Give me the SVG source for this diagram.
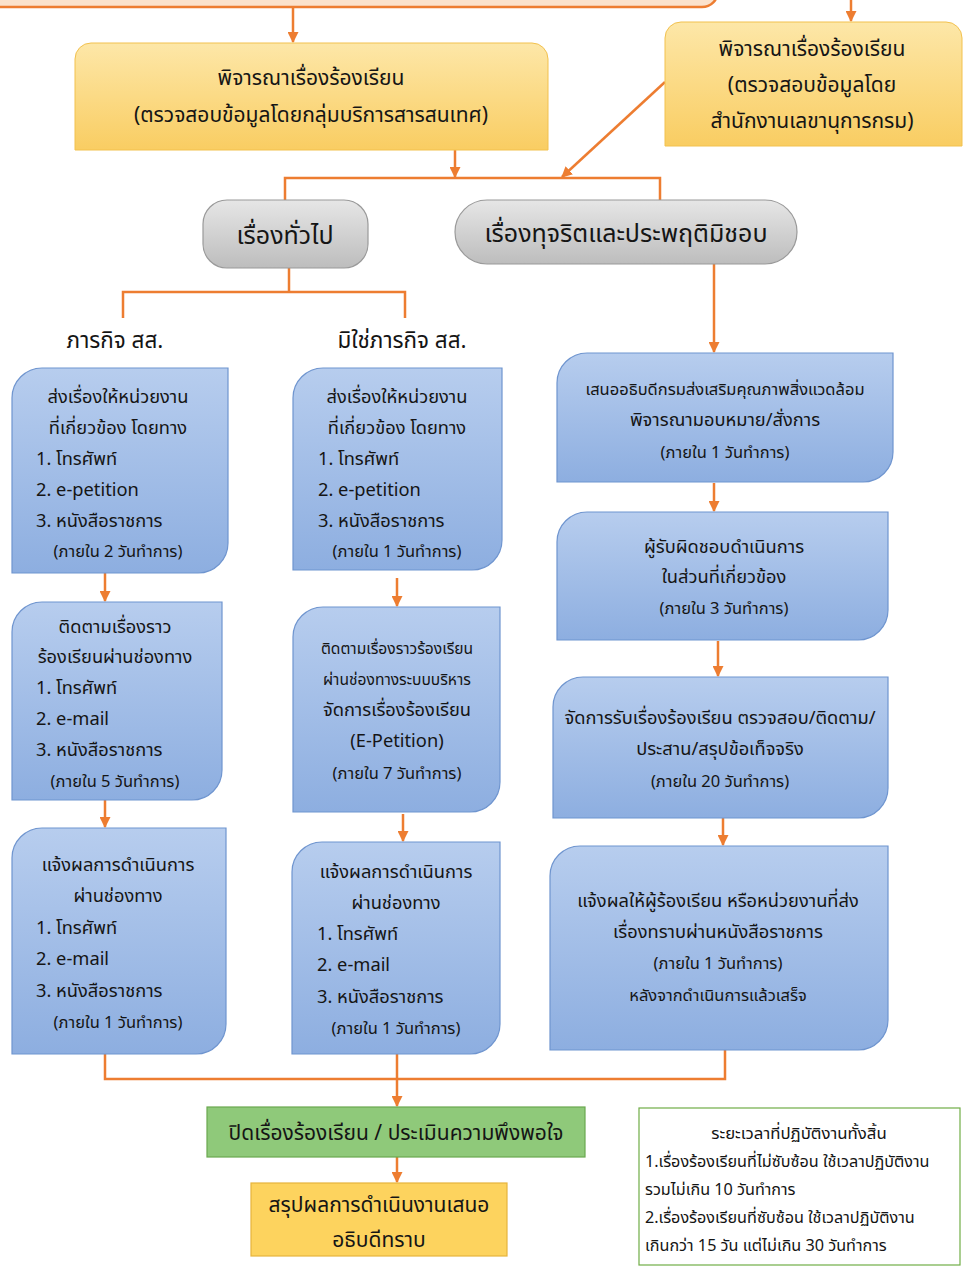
<svg xmlns="http://www.w3.org/2000/svg" width="963" height="1270" viewBox="0 0 963 1270">
<defs>
<linearGradient id="gY" x1="0" y1="0" x2="0" y2="1"><stop offset="0" stop-color="#fde7a8"/><stop offset="1" stop-color="#f9cd62"/></linearGradient>
<linearGradient id="gB" x1="0" y1="0" x2="0" y2="1"><stop offset="0" stop-color="#b7cdee"/><stop offset="1" stop-color="#8daee0"/></linearGradient>
<linearGradient id="gG" x1="0" y1="0" x2="0" y2="1"><stop offset="0" stop-color="#e6e6e6"/><stop offset="1" stop-color="#bdbdbd"/></linearGradient>
<marker id="ar" viewBox="0 0 10 10" refX="9" refY="5" markerWidth="11" markerHeight="11" markerUnits="userSpaceOnUse" orient="auto"><path d="M0,0 L10,5 L0,10 Z" fill="#ed7d31"/></marker>
<style>
.c{fill:none;stroke:#ed7d31;stroke-width:2.5}
.y{fill:url(#gY);stroke:#f2c14e;stroke-width:1}
.b{fill:url(#gB);stroke:#6f95cf;stroke-width:1.2}
.g{fill:url(#gG);stroke:#9a9a9a;stroke-width:1.2}
text{font-family:"Noto Sans Thai","Leelawadee UI",Tahoma,"Noto Sans","DejaVu Sans",sans-serif;fill:#151515}
.t20{font-size:21px;text-anchor:middle}
.t24{font-size:25px;text-anchor:middle}
.lab{font-size:22.5px;text-anchor:middle}
.t18{font-size:18.3px;text-anchor:middle}
.l18{font-size:18.3px}
.s15{font-size:16.5px;text-anchor:middle}
.n14{font-size:16.2px}
.nt{font-size:16.8px;text-anchor:middle}
.sm{font-size:15.6px;text-anchor:middle}
.r1{font-size:16.5px;text-anchor:middle}
</style>
</defs>
<rect width="963" height="1270" fill="#ffffff"/>

<g id="top-box"><path d="M-5,-30 H718 V-9 A16,16 0 0 1 702,7 H-5 Z" fill="#fbe2cc" stroke="#ed7d31" stroke-width="2.5"/></g>

<g id="connectors">
<line class="c" x1="293" y1="8" x2="293" y2="42" marker-end="url(#ar)"/>
<line class="c" x1="851" y1="0" x2="851" y2="21" marker-end="url(#ar)"/>
<line class="c" x1="455" y1="150" x2="455" y2="177" marker-end="url(#ar)"/>
<line class="c" x1="665" y1="82" x2="562" y2="177" marker-end="url(#ar)"/>
<polyline class="c" points="285,200 285,178 660,178 660,200"/>
<polyline class="c" points="289,268 289,292"/>
<polyline class="c" points="123,318 123,292 405,292 405,318"/>
<line class="c" x1="714" y1="264" x2="714" y2="352" marker-end="url(#ar)"/>
<line class="c" x1="105" y1="573" x2="105" y2="601" marker-end="url(#ar)"/>
<line class="c" x1="105" y1="800" x2="105" y2="827" marker-end="url(#ar)"/>
<line class="c" x1="397" y1="578" x2="397" y2="606" marker-end="url(#ar)"/>
<line class="c" x1="403" y1="814" x2="403" y2="841" marker-end="url(#ar)"/>
<line class="c" x1="714" y1="483" x2="714" y2="511" marker-end="url(#ar)"/>
<line class="c" x1="718" y1="641" x2="718" y2="676" marker-end="url(#ar)"/>
<line class="c" x1="723" y1="818" x2="723" y2="845" marker-end="url(#ar)"/>
<polyline class="c" points="105,1054 105,1079 725,1079 725,1050"/>
<line class="c" x1="397" y1="1054" x2="397" y2="1106" marker-end="url(#ar)"/>
<line class="c" x1="397" y1="1157" x2="397" y2="1182" marker-end="url(#ar)"/>
</g>

<g id="consider-left">
<path class="y" d="M75,150 V59 A16,16 0 0 1 91,43 H532 A16,16 0 0 1 548,59 V150 Z"/>
<text class="t20" x="311" y="85">พิจารณาเรื่องร้องเรียน</text>
<text class="t20" x="311" y="122">(ตรวจสอบข้อมูลโดยกลุ่มบริการสารสนเทศ)</text>
</g>

<g id="consider-right">
<path class="y" d="M665,146 V38 A16,16 0 0 1 681,22 H946 A16,16 0 0 1 962,38 V146 Z"/>
<text class="t20" x="812" y="56">พิจารณาเรื่องร้องเรียน</text>
<text class="t20" x="812" y="92">(ตรวจสอบข้อมูลโดย</text>
<text class="t20" x="812" y="128">สำนักงานเลขานุการกรม)</text>
</g>

<g id="general">
<rect class="g" x="203" y="200" width="165" height="68" rx="24"/>
<text class="t24" x="285" y="244">เรื่องทั่วไป</text>
</g>

<g id="corruption">
<rect class="g" x="455" y="200" width="342" height="64" rx="32"/>
<text class="t24" x="626" y="242">เรื่องทุจริตและประพฤติมิชอบ</text>
</g>

<g id="label-mission"><text class="lab" x="115" y="348">ภารกิจ สส.</text></g>
<g id="label-nonmission"><text class="lab" x="402" y="348">มิใช่ภารกิจ สส.</text></g>

<g id="L1">
<path class="b" d="M12,398 A30,30 0 0 1 42,368 H228 V543 A30,30 0 0 1 198,573 H12 Z"/>
<text class="t18" x="118" y="403">ส่งเรื่องให้หน่วยงาน</text>
<text class="t18" x="118" y="434">ที่เกี่ยวข้อง โดยทาง</text>
<text class="l18" x="36" y="465">1. โทรศัพท์</text>
<text class="l18" x="36" y="496">2. e-petition</text>
<text class="l18" x="36" y="527">3. หนังสือราชการ</text>
<text class="s15" x="118" y="557">(ภายใน 2 วันทำการ)</text>
</g>

<g id="L2">
<path class="b" d="M12,632 A30,30 0 0 1 42,602 H222 V770 A30,30 0 0 1 192,800 H12 Z"/>
<text class="t18" x="115" y="633">ติดตามเรื่องราว</text>
<text class="t18" x="115" y="663">ร้องเรียนผ่านช่องทาง</text>
<text class="l18" x="36" y="694">1. โทรศัพท์</text>
<text class="l18" x="36" y="725">2. e-mail</text>
<text class="l18" x="36" y="756">3. หนังสือราชการ</text>
<text class="s15" x="115" y="787">(ภายใน 5 วันทำการ)</text>
</g>

<g id="L3">
<path class="b" d="M12,858 A30,30 0 0 1 42,828 H226 V1024 A30,30 0 0 1 196,1054 H12 Z"/>
<text class="t18" x="118" y="871">แจ้งผลการดำเนินการ</text>
<text class="t18" x="118" y="902">ผ่านช่องทาง</text>
<text class="l18" x="36" y="934">1. โทรศัพท์</text>
<text class="l18" x="36" y="965">2. e-mail</text>
<text class="l18" x="36" y="997">3. หนังสือราชการ</text>
<text class="s15" x="118" y="1028">(ภายใน 1 วันทำการ)</text>
</g>

<g id="M1">
<path class="b" d="M293,398 A30,30 0 0 1 323,368 H502 V540 A30,30 0 0 1 472,570 H293 Z"/>
<text class="t18" x="397" y="403">ส่งเรื่องให้หน่วยงาน</text>
<text class="t18" x="397" y="434">ที่เกี่ยวข้อง โดยทาง</text>
<text class="l18" x="318" y="465">1. โทรศัพท์</text>
<text class="l18" x="318" y="496">2. e-petition</text>
<text class="l18" x="318" y="527">3. หนังสือราชการ</text>
<text class="s15" x="397" y="557">(ภายใน 1 วันทำการ)</text>
</g>

<g id="M2">
<path class="b" d="M293,637 A30,30 0 0 1 323,607 H500 V782 A30,30 0 0 1 470,812 H293 Z"/>
<text class="sm" x="397" y="654">ติดตามเรื่องราวร้องเรียน</text>
<text class="sm" x="397" y="685">ผ่านช่องทางระบบบริหาร</text>
<text class="t18" x="397" y="716">จัดการเรื่องร้องเรียน</text>
<text class="t18" x="397" y="747">(E-Petition)</text>
<text class="s15" x="397" y="779">(ภายใน 7 วันทำการ)</text>
</g>

<g id="M3">
<path class="b" d="M292,872 A30,30 0 0 1 322,842 H500 V1024 A30,30 0 0 1 470,1054 H292 Z"/>
<text class="t18" x="396" y="878">แจ้งผลการดำเนินการ</text>
<text class="t18" x="396" y="909">ผ่านช่องทาง</text>
<text class="l18" x="317" y="940">1. โทรศัพท์</text>
<text class="l18" x="317" y="971">2. e-mail</text>
<text class="l18" x="317" y="1003">3. หนังสือราชการ</text>
<text class="s15" x="396" y="1034">(ภายใน 1 วันทำการ)</text>
</g>

<g id="R1">
<path class="b" d="M557,383 A30,30 0 0 1 587,353 H893 V452 A30,30 0 0 1 863,482 H557 Z"/>
<text class="r1" x="725" y="395">เสนออธิบดีกรมส่งเสริมคุณภาพสิ่งแวดล้อม</text>
<text class="t18" x="725" y="426">พิจารณามอบหมาย/สั่งการ</text>
<text class="s15" x="725" y="458">(ภายใน 1 วันทำการ)</text>
</g>

<g id="R2">
<path class="b" d="M557,542 A30,30 0 0 1 587,512 H888 V610 A30,30 0 0 1 858,640 H557 Z"/>
<text class="t18" x="724" y="553">ผู้รับผิดชอบดำเนินการ</text>
<text class="t18" x="724" y="583">ในส่วนที่เกี่ยวข้อง</text>
<text class="s15" x="724" y="614">(ภายใน 3 วันทำการ)</text>
</g>

<g id="R3">
<path class="b" d="M553,707 A30,30 0 0 1 583,677 H888 V788 A30,30 0 0 1 858,818 H553 Z"/>
<text class="t18" x="720" y="724">จัดการรับเรื่องร้องเรียน ตรวจสอบ/ติดตาม/</text>
<text class="t18" x="720" y="755">ประสาน/สรุปข้อเท็จจริง</text>
<text class="s15" x="720" y="787">(ภายใน 20 วันทำการ)</text>
</g>

<g id="R4">
<path class="b" d="M550,876 A30,30 0 0 1 580,846 H888 V1020 A30,30 0 0 1 858,1050 H550 Z"/>
<text class="t18" x="718" y="907">แจ้งผลให้ผู้ร้องเรียน หรือหน่วยงานที่ส่ง</text>
<text class="t18" x="718" y="938">เรื่องทราบผ่านหนังสือราชการ</text>
<text class="s15" x="718" y="969">(ภายใน 1 วันทำการ)</text>
<text class="s15" x="718" y="1001">หลังจากดำเนินการแล้วเสร็จ</text>
</g>

<g id="close">
<rect x="207" y="1107" width="378" height="50" fill="#8fc97a" stroke="#6aa84f" stroke-width="1.2"/>
<text class="t20" x="396" y="1140">ปิดเรื่องร้องเรียน / ประเมินความพึงพอใจ</text>
</g>

<g id="summary">
<rect x="251" y="1183" width="256" height="73" fill="#fdd35e" stroke="#e6b43c" stroke-width="1.2"/>
<text class="t20" x="379" y="1212">สรุปผลการดำเนินงานเสนอ</text>
<text class="t20" x="379" y="1247">อธิบดีทราบ</text>
</g>

<g id="note">
<rect x="639" y="1108" width="321" height="157" fill="#ffffff" stroke="#70ad47" stroke-width="1.2"/>
<text class="nt" x="799" y="1139">ระยะเวลาที่ปฏิบัติงานทั้งสิ้น</text>
<text class="n14" x="645" y="1167">1.เรื่องร้องเรียนที่ไม่ซับซ้อน ใช้เวลาปฏิบัติงาน</text>
<text class="n14" x="645" y="1195">รวมไม่เกิน 10 วันทำการ</text>
<text class="n14" x="645" y="1223">2.เรื่องร้องเรียนที่ซับซ้อน ใช้เวลาปฏิบัติงาน</text>
<text class="n14" x="645" y="1251">เกินกว่า 15 วัน แต่ไม่เกิน 30 วันทำการ</text>
</g>
</svg>
